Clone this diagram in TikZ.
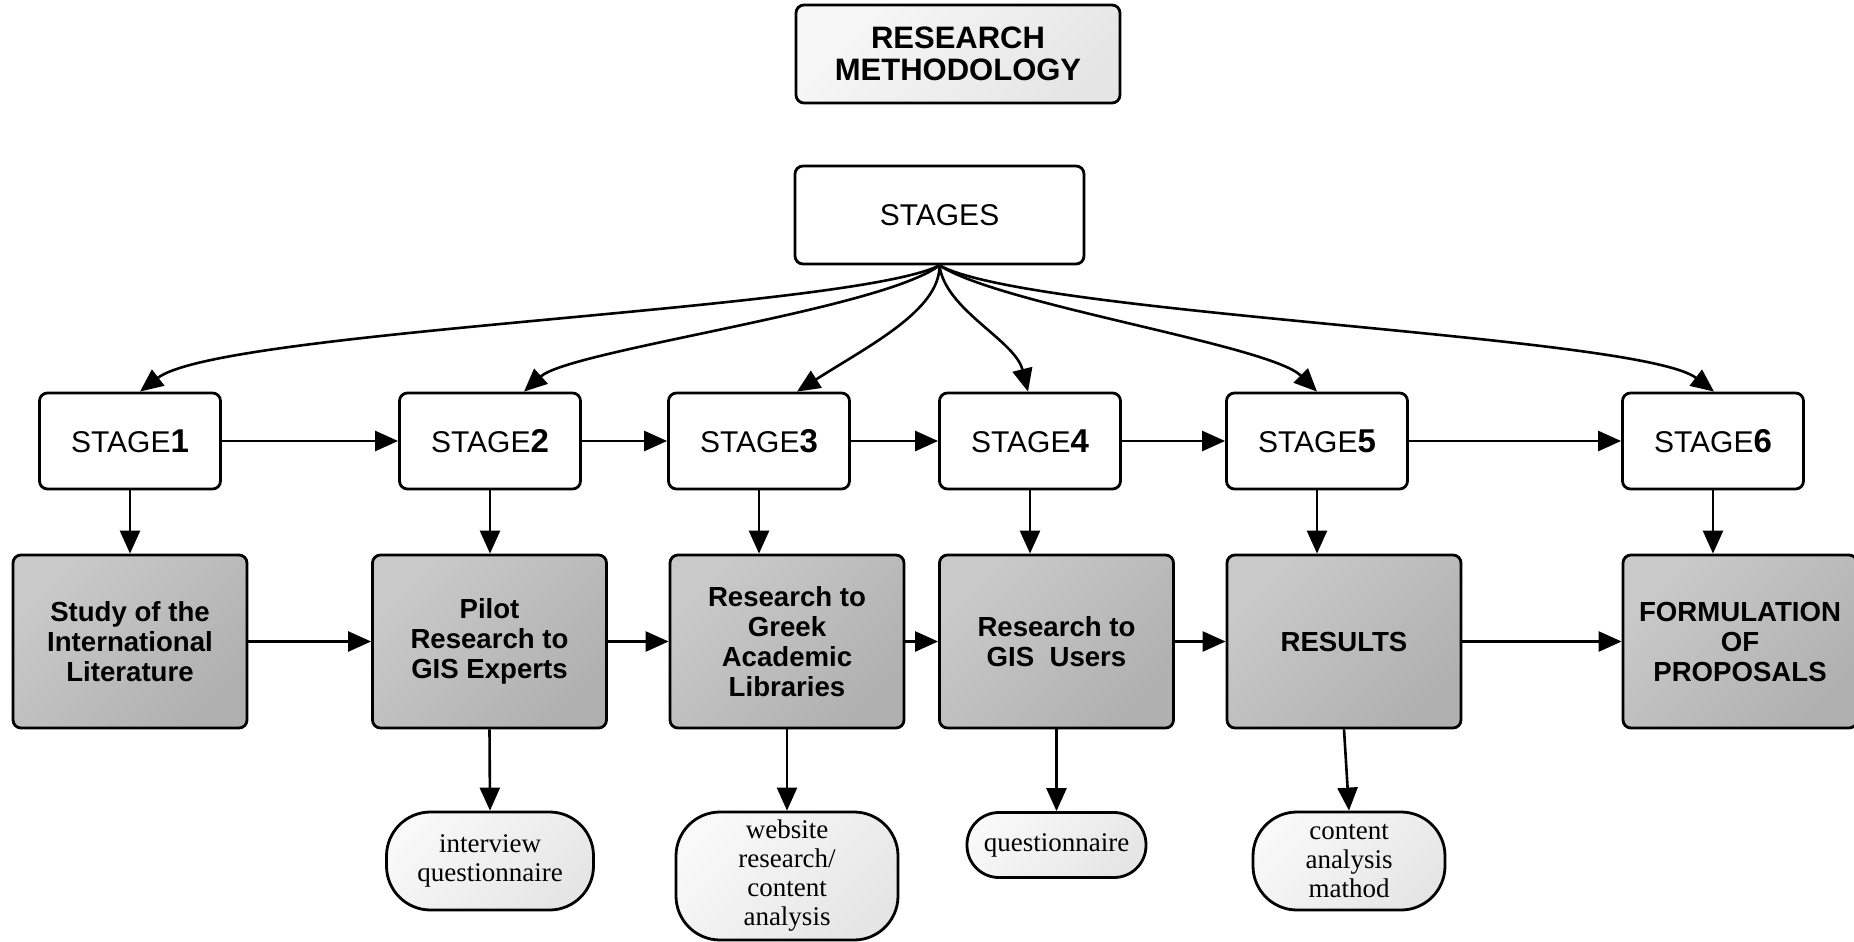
\documentclass[tikz,border=0pt]{standalone}
\usepackage{fontspec}
\setmainfont{Liberation Sans}
\newfontfamily\ovalfont{Liberation Serif}
\usepackage{tikz}
\usetikzlibrary{arrows.meta}

\begin{document}
\begin{tikzpicture}[x=0.5pt,y=-0.5pt,
        box/.style={draw,line width=1.4pt,rounded corners=4pt,align=center,inner sep=2pt},
        headbox/.style={box,top color=gray!6,bottom color=gray!20,shading angle=45,minimum width=162pt,minimum height=49pt,font=\fontsize{15.5}{16}\selectfont\bfseries},
        stagebox/.style={box,fill=white,minimum width=90.5pt,minimum height=48pt,font=\fontsize{15}{17}\selectfont},
        taskbox/.style={box,top color=gray!42,bottom color=gray!62,shading angle=45,minimum width=117pt,minimum height=86.5pt,font=\fontsize{13.8}{15}\selectfont\bfseries},
        toolbox/.style={box,rounded corners=22pt,top color=gray!5,bottom color=gray!20,shading angle=45,font=\fontsize{13.5}{14.5}\selectfont\ovalfont},
        arr/.style={line width=1.3pt,-{Triangle[length=11.5pt,width=10pt]}}]
        \useasboundingbox (0,0) rectangle (1854,942);

        \node[headbox] (title) at (958,54) {RESEARCH\\METHODOLOGY};
        \node[stagebox,minimum width=144.5pt,minimum height=49pt] (stages) at (939.5,215) {STAGES};

        \node[stagebox] (s1) at (130,441) {STAGE{\fontsize{16.5}{17}\selectfont\bfseries 1}};
        \node[stagebox] (s2) at (490,441) {STAGE{\fontsize{16.5}{17}\selectfont\bfseries 2}};
        \node[stagebox] (s3) at (759,441) {STAGE{\fontsize{16.5}{17}\selectfont\bfseries 3}};
        \node[stagebox] (s4) at (1030,441) {STAGE{\fontsize{16.5}{17}\selectfont\bfseries 4}};
        \node[stagebox] (s5) at (1317,441) {STAGE{\fontsize{16.5}{17}\selectfont\bfseries 5}};
        \node[stagebox] (s6) at (1713,441) {STAGE{\fontsize{16.5}{17}\selectfont\bfseries 6}};

        \node[taskbox] (b1) at (130,641.5) {Study of the\\International\\Literature};
        \node[taskbox] (b2) at (489.5,641.5) {Pilot\\Research to\\GIS Experts};
        \node[taskbox] (b3) at (787,641.5) {Research to\\Greek\\Academic\\Libraries};
        \node[taskbox] (b4) at (1056.5,641.5) {Research to\\GIS~~Users};
        \node[taskbox] (b5) at (1344,641.5) {RESULTS};
        \node[taskbox] (b6) at (1740,641.5) {FORMULATION\\OF\\PROPOSALS};

        \node[toolbox,minimum width=103.5pt,minimum height=49pt] (o1) at (490,861) {interview\\questionnaire};
        \node[toolbox,minimum width=111pt,minimum height=64pt] (o2) at (787,876) {website\\research/\\content\\analysis};
        \node[toolbox,rounded corners=16pt,minimum width=89.5pt,minimum height=32.5pt] (o3) at (1056.5,845) {questionnaire};
        \node[toolbox,minimum width=96pt,minimum height=49pt] (o4) at (1349,861) {content\\analysis\\mathod};

        \draw[arr] (stages.south) .. controls (850,310) and (220,330) .. ([xshift=5pt]s1.north);
        \draw[arr] (stages.south) .. controls (880,310) and (570,350) .. ([xshift=17pt]s2.north);
        \draw[arr] (stages.south) .. controls (940,310) and (870,345) .. ([xshift=19pt]s3.north);
        \draw[arr] (stages.south) .. controls (945,310) and (1015,340) .. ([xshift=-1pt]s4.north);
        \draw[arr] (stages.south) .. controls (1000,305) and (1270,345) .. (s5.north);
        \draw[arr] (stages.south) .. controls (1030,315) and (1640,335) .. ([xshift=0.5pt]s6.north);

        \draw[arr] (s1.east)--(s2.west);
        \draw[arr] (s2.east)--(s3.west);
        \draw[arr] (s3.east)--(s4.west);
        \draw[arr] (s4.east)--(s5.west);
        \draw[arr] (s5.east)--(s6.west);

        \draw[arr] (s1.south)--(s1.south |- b1.north);
        \draw[arr] (s2.south)--(s2.south |- b2.north);
        \draw[arr] (s3.south)--(s3.south |- b3.north);
        \draw[arr] (s4.south)--(s4.south |- b4.north);
        \draw[arr] (s5.south)--(s5.south |- b5.north);
        \draw[arr] (s6.south)--(s6.south |- b6.north);

        \draw[arr] (b1.east)--(b2.west);
        \draw[arr] (b2.east)--(b3.west);
        \draw[arr] (b3.east)--(b4.west);
        \draw[arr] (b4.east)--(b5.west);
        \draw[arr] (b5.east)--(b6.west);

        \draw[arr] (b2.south)--(o1.north);
        \draw[arr] (b3.south)--(o2.north);
        \draw[arr] (b4.south)--(o3.north);
        \draw[arr] (b5.south)--(o4.north);
    \end{tikzpicture}
\end{document}
